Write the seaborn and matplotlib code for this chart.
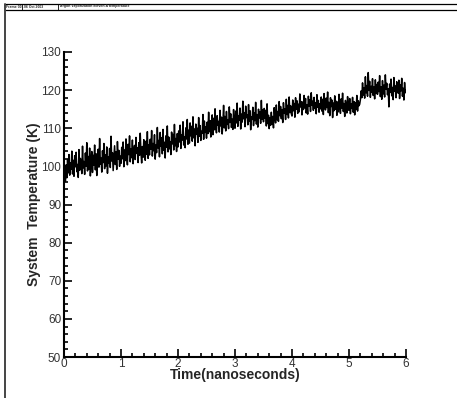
import numpy as np
import pandas as pd
import matplotlib
matplotlib.use("Agg")
import matplotlib.pyplot as plt
from matplotlib.lines import Line2D
from matplotlib.ticker import MultipleLocator
import seaborn as sns

# ---- data ----
temperature = [
    94.5, 98.2, 96.1, 100.4, 97.0, 101.8, 98.3, 103.1, 97.7, 100.9, 99.2, 104.0, 98.0, 101.6, 97.4, 102.8, 99.9, 103.7, 98.6, 100.5,
    97.1, 104.4, 99.0, 102.1, 100.7, 98.1, 105.3, 99.6, 101.3, 97.9, 103.5, 100.0, 106.2, 98.8, 102.6, 99.3, 104.8, 97.5, 101.1, 103.9,
    98.4, 102.9, 100.3, 105.6, 99.1, 103.3, 97.6, 101.7, 104.5, 99.8, 107.3, 100.6, 102.2, 98.5, 104.1, 101.0, 106.0, 99.4, 103.0, 100.1,
    105.1, 98.2, 102.5, 100.9, 104.7, 99.7, 107.9, 101.4, 103.6, 98.9, 102.0, 105.4, 100.5, 103.8, 99.2, 106.5, 101.9, 104.2, 100.0, 102.7,
    100.8, 105.0, 102.0, 106.4, 99.9, 104.3, 101.5, 107.2, 102.6, 100.4, 105.8, 103.1, 108.0, 101.2, 104.6, 102.3, 106.9, 100.7, 103.9, 105.5,
    101.8, 107.6, 103.4, 104.9, 101.0, 106.2, 102.9, 108.7, 103.7, 100.9, 105.2, 102.4, 107.0, 104.0, 101.6, 106.6, 103.2, 109.1, 102.1, 105.7,
    103.0, 107.1, 104.5, 109.4, 102.7, 106.0, 104.1, 108.3, 101.9, 105.6, 103.6, 110.2, 104.8, 106.8, 102.5, 108.9, 105.3, 107.5, 103.3, 109.7,
    104.2, 106.3, 102.2, 108.0, 105.0, 110.6, 103.8, 107.7, 104.6, 106.5, 103.1, 109.0, 105.9, 108.4, 104.3, 111.0, 105.4, 107.3, 103.9, 108.6,
    105.1, 109.3, 106.4, 110.8, 104.7, 108.2, 106.9, 111.7, 105.6, 107.8, 104.9, 110.1, 107.2, 112.3, 105.8, 109.5, 106.1, 111.4, 108.0, 110.5,
    106.6, 113.0, 107.5, 109.8, 105.4, 111.1, 108.4, 110.0, 106.3, 112.8, 107.9, 110.7, 106.8, 109.2, 108.7, 113.6, 107.1, 111.9, 108.9, 110.4,
    107.4, 111.6, 108.6, 114.2, 109.1, 112.0, 107.7, 110.9, 113.5, 108.3, 112.6, 109.6, 115.1, 110.3, 108.8, 113.3, 110.8, 111.8, 109.0, 114.7,
    110.6, 112.9, 108.5, 111.3, 116.0, 110.1, 113.1, 109.3, 114.4, 111.0, 112.2, 109.9, 115.6, 111.5, 113.8, 110.2, 112.4, 109.7, 114.9, 111.2,
    110.0, 114.5, 111.4, 116.6, 110.5, 113.2, 112.1, 115.3, 109.8, 113.7, 111.6, 117.1, 112.5, 114.1, 110.4, 115.8, 112.8, 113.5, 110.9, 116.2,
    111.9, 114.6, 109.6, 113.0, 112.3, 115.5, 110.7, 114.0, 112.0, 116.8, 111.1, 113.6, 110.3, 115.0, 112.7, 114.3, 111.3, 117.3, 112.4, 114.8,
    111.7, 115.2, 112.6, 114.7, 110.6, 116.4, 111.2, 113.4, 109.9, 112.8, 110.8, 114.2, 111.0, 113.1, 110.1, 115.4, 112.9, 111.4, 116.1, 112.2,
    114.4, 111.8, 117.0, 113.3, 115.7, 112.5, 114.9, 111.5, 116.7, 113.9, 115.1, 112.3, 117.6, 113.6, 116.0, 112.7, 118.2, 114.1, 115.9, 113.8,
    113.2, 117.4, 114.6, 116.5, 112.9, 118.0, 115.0, 117.2, 113.9, 116.3, 114.3, 119.0, 115.6, 117.0, 113.5, 116.9, 114.9, 118.6, 115.3, 117.8,
    114.0, 116.1, 113.7, 118.4, 115.8, 117.5, 114.4, 119.3, 116.0, 117.1, 114.7, 118.1, 115.2, 116.7, 113.8, 118.8, 115.5, 117.3, 114.2, 116.4,
    115.1, 118.2, 114.5, 117.6, 113.6, 119.1, 116.2, 114.8, 117.9, 115.4, 119.5, 114.1, 116.8, 113.3, 118.0, 115.7, 117.4, 112.8, 116.6, 114.6,
    118.5, 115.0, 117.1, 113.4, 116.9, 114.3, 118.9, 115.9, 113.9, 117.7, 115.3, 119.2, 114.4, 116.5, 113.1, 117.3, 115.8, 114.0, 118.3, 115.6,
    114.7, 117.8, 113.8, 116.4, 115.2, 118.1, 114.2, 117.0, 113.5, 116.7, 115.0, 118.6, 114.5, 117.2, 115.9, 116.3, 117.5, 119.8, 118.0, 121.9,
    118.7, 120.6, 117.9, 123.5, 119.3, 121.2, 118.4, 124.6, 119.9, 122.3, 118.1, 121.0, 119.5, 123.0, 118.6, 120.8, 117.7, 122.7, 119.1, 121.5,
    118.9, 122.1, 119.6, 123.8, 118.3, 120.9, 117.6, 122.5, 119.0, 121.3, 118.2, 124.0, 120.2, 121.8, 118.8, 120.4, 115.6, 121.6, 119.4, 122.9,
    118.5, 120.7, 117.5, 123.3, 119.7, 121.1, 118.0, 122.2, 120.1, 119.2, 122.6, 117.8, 121.4, 119.8, 123.1, 118.4, 120.5, 117.4, 122.0, 119.3,
    120.0,
]
time_ns = np.linspace(0.0, 6.0, len(temperature))
x_ticks = [0, 1, 2, 3, 4, 5, 6]
y_ticks = [50, 60, 70, 80, 90, 100, 110, 120, 130]
x_label = "Time(nanoseconds)"
y_label = "System  Temperature (K)"
header_fields = ["Frame 001", "06 Oct 2003", "Argon Vaporization eleven A temperature"]

df = pd.DataFrame({"time": time_ns, "temp": temperature})

sns.set_style("ticks")
plt.rcParams["font.family"] = ["Liberation Sans", "DejaVu Sans"]

W, H = 457, 398
fig = plt.figure(figsize=(W / 100, H / 100), dpi=100)
ax = fig.add_axes([64 / W, 1 - 357 / H, (406 - 64) / W, (357 - 52) / H])

sns.lineplot(data=df, x="time", y="temp", ax=ax, color="black",
             linewidth=1.1, estimator=None)

ax.set_xlim(0, 6)
ax.set_ylim(50, 130)
ax.set_xticks(x_ticks)
ax.set_yticks(y_ticks)
ax.xaxis.set_minor_locator(MultipleLocator(0.2))
ax.yaxis.set_minor_locator(MultipleLocator(2))
ax.tick_params(which="both", direction="in", width=1.2, colors="black",
               labelcolor="#333333", labelsize=8.5)
ax.tick_params(which="major", length=5.5)
ax.tick_params(which="minor", length=3)
ax.tick_params(axis="x", pad=0.5)
ax.tick_params(axis="y", pad=2)
for s in ["top", "right"]:
    ax.spines[s].set_visible(False)
for s in ["left", "bottom"]:
    ax.spines[s].set_linewidth(1.5)
    ax.spines[s].set_color("black")

ax.set_xlabel(x_label, fontsize=10, fontweight="bold", labelpad=-1)
ax.set_ylabel(y_label, fontsize=10, fontweight="bold", labelpad=0)

# frame decorations (header strip and left border)
def px(x, y):
    return x / W, 1 - y / H

x0, y0 = px(4.5, 3.5)
x1, y1 = px(457, 9.5)
fig.add_artist(Line2D([x0, 1], [y0, y0], color="black", lw=0.9))
fig.add_artist(Line2D([x0, 1], [y1, y1], color="black", lw=0.9))
fig.add_artist(Line2D([x0, x0], [y0, 0], color="#444444", lw=1.4))
seps = [22, 58]
for sx in seps:
    fx, _ = px(sx, 0)
    fig.add_artist(Line2D([fx, fx], [y0, y1], color="black", lw=0.6))
starts = [6, 24, 60]
for sx, txt in zip(starts, header_fields):
    fx, fy = px(sx, 6.5)
    fig.text(fx, fy, txt, fontsize=2.5, fontweight="bold", va="center", ha="left")

fig.savefig("out.png", dpi=100)
